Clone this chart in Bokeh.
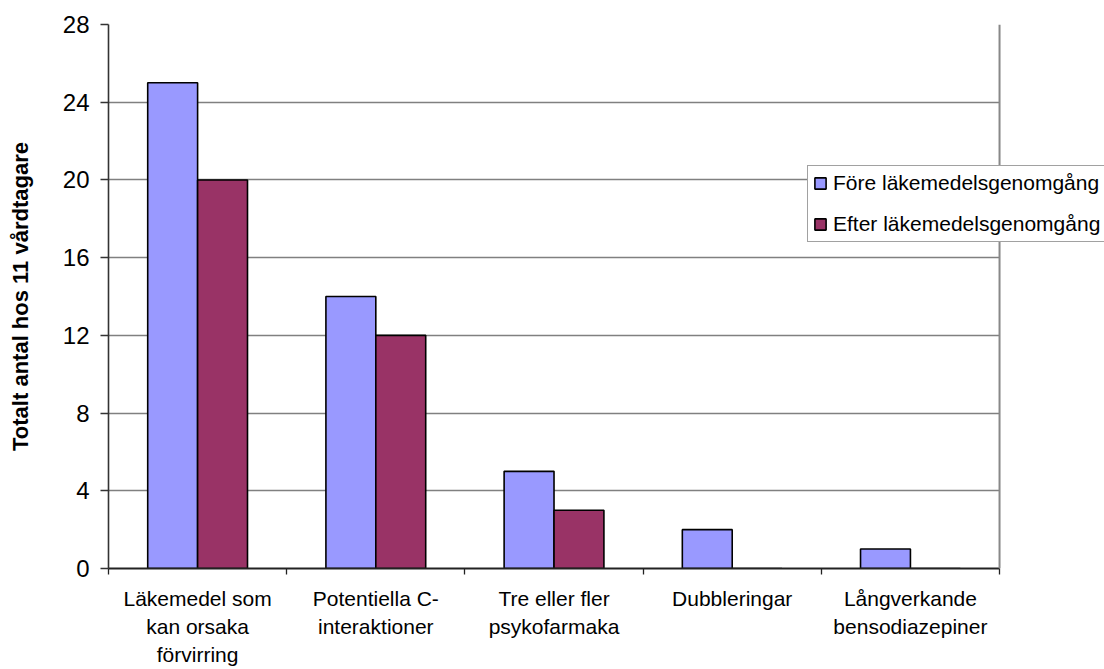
import numpy as np
from bokeh.plotting import figure
from bokeh.models import ColumnDataSource, Range1d, FixedTicker, Legend, LegendItem, Span
from bokeh.transform import dodge
from bokeh.embed import file_html
from bokeh.resources import INLINE

categories = ["Läkemedel som\nkan orsaka\nförvirring",
              "Potentiella C-\ninteraktioner",
              "Tre eller fler\npsykofarmaka",
              "Dubbleringar",
              "Långverkande\nbensodiazepiner"]
fore = [25, 14, 5, 2, 1]
efter = [20, 12, 3, 0, 0]
series_names = ["Före läkemedelsgenomgång", "Efter läkemedelsgenomgång"]
y_ticks = [0, 4, 8, 12, 16, 20, 24, 28]
y_title = "Totalt antal hos 11 vårdtagare"

FONT = "Liberation Sans"
n = len(categories)
xpos = np.arange(n) + 0.5
src = ColumnDataSource(dict(x=xpos, fore=fore, efter=efter))

# frame extends to the right canvas edge so the legend can overlap the plot border
p = figure(width=1104, height=669, output_backend="svg", toolbar_location=None,
           x_range=Range1d(0, n * 1.1178), y_range=Range1d(0, y_ticks[-1]),
           min_border_left=108, min_border_right=0, min_border_top=24, min_border_bottom=99)
p.background_fill_color = "white"
p.border_fill_color = "white"
p.outline_line_color = None

r1 = p.vbar(x=dodge("x", -0.14, range=p.x_range), top="fore", width=0.28, source=src,
            fill_color="#9999FF", line_color="black", line_width=1.6)
r2 = p.vbar(x=dodge("x", 0.14, range=p.x_range), top="efter", width=0.28, source=src,
            fill_color="#993366", line_color="black", line_width=1.6)

# grid / border
p.xgrid.visible = False
p.ygrid.grid_line_color = "#808080"
p.ygrid.grid_line_width = 1.3
p.ygrid.cross_bounds = (0, n)
p.add_layout(Span(location=n, dimension="height", line_color="#888888", line_width=2))

xa = p.xaxis[0]
xa.bounds = (0, n)
xa.ticker = FixedTicker(ticks=list(xpos), minor_ticks=list(np.arange(n + 1)))
xa.major_label_overrides = {float(v): c for v, c in zip(xpos, categories)}
xa.major_tick_line_color = None
xa.major_tick_out = 0
xa.major_tick_in = 0
xa.minor_tick_line_color = "#222222"
xa.minor_tick_line_width = 1.3
xa.minor_tick_out = 6
xa.minor_tick_in = 0
xa.axis_line_color = "#222222"
xa.axis_line_width = 2
xa.major_label_text_font = FONT
xa.major_label_text_font_size = "21px"
xa.major_label_text_color = "black"
xa.major_label_text_line_height = 1.23
xa.major_label_standoff = 12
xa.major_label_orientation = "horizontal"

ya = p.yaxis[0]
ya.ticker = FixedTicker(ticks=y_ticks, minor_ticks=[])
ya.major_tick_out = 8
ya.major_tick_in = 0
ya.major_tick_line_color = "#333333"
ya.major_tick_line_width = 1.3
ya.axis_line_color = "#333333"
ya.axis_line_width = 1.6
ya.major_label_text_font = FONT
ya.major_label_text_font_size = "24px"
ya.major_label_text_color = "black"
ya.major_label_standoff = 11
ya.axis_label = y_title
ya.axis_label_text_font = FONT
ya.axis_label_text_font_size = "22px"
ya.axis_label_text_font_style = "bold"
ya.axis_label_text_color = "black"
ya.axis_label_standoff = 27

legend = Legend(items=[LegendItem(label=series_names[0], renderers=[r1]),
                       LegendItem(label=series_names[1], renderers=[r2])],
                location=(699, 326), orientation="vertical",
                glyph_width=14, glyph_height=14, label_standoff=6,
                padding=5, spacing=17, margin=0,
                label_text_font=FONT, label_text_font_size="21px", label_text_color="black",
                border_line_color="#444444", border_line_width=1.5,
                background_fill_color="white", background_fill_alpha=1)
p.add_layout(legend, "center")

open("out.html", "w").write(file_html(p, INLINE))
